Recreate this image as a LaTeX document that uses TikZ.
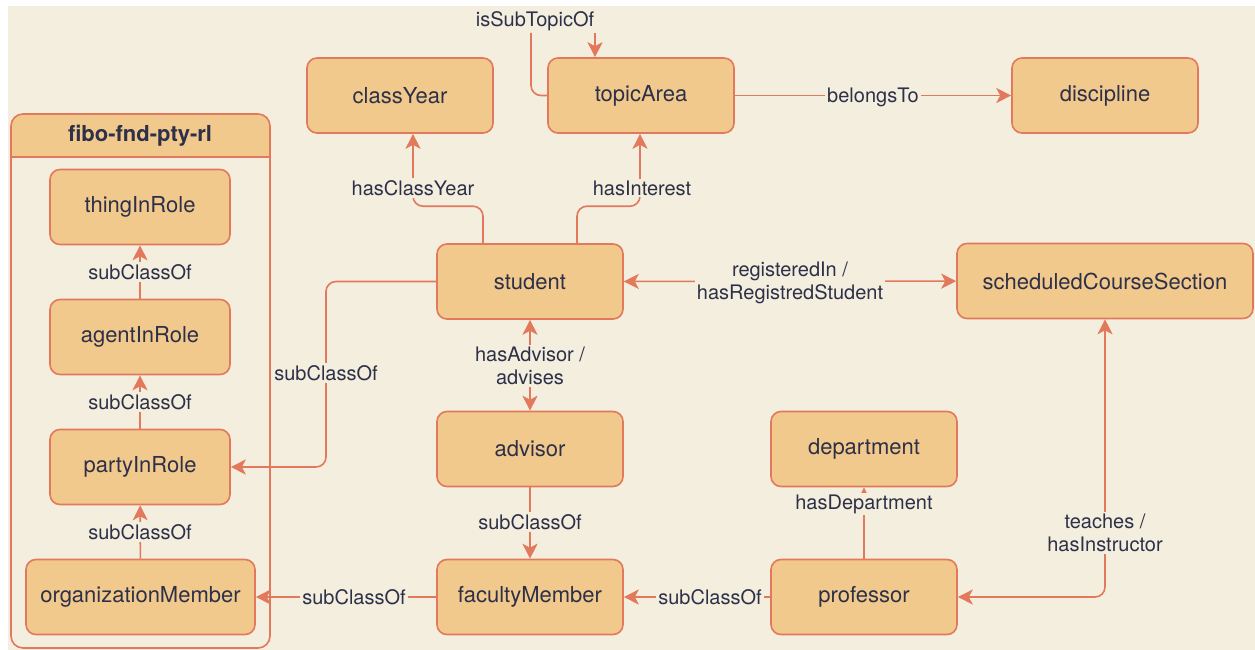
\documentclass[tikz,border=0pt]{standalone}
\usepackage{fontspec}
\setmainfont{TeX Gyre Heros}
\usetikzlibrary{arrows.meta,calc}
\definecolor{bgc}{RGB}{243,238,221}
\definecolor{boxc}{RGB}{242,201,140}
\definecolor{linec}{RGB}{226,120,92}
\definecolor{txtc}{RGB}{45,48,72}
\begin{document}
\begin{tikzpicture}[x=1pt,y=-1pt,
 box/.style={draw=linec, fill=boxc, line width=1.6pt, rounded corners=10pt, minimum width=186pt, minimum height=75pt, inner sep=0pt, text=txtc, font=\fontsize{22}{26}\selectfont},
 lbl/.style={fill=bgc, text=txtc, inner sep=2pt, font=\fontsize{20}{23}\selectfont, align=center},
 edge/.style={draw=linec, line width=1.6pt},
 >={Stealth[length=15pt,width=15pt,inset=4pt]}
]
\useasboundingbox (0,0) rectangle (1255,650);
\fill[white] (0,0) rectangle (1255,650);
\fill[bgc] (8,6) rectangle (1255,650);

% container
\fill[boxc] (11,157) [rounded corners=12pt] -- (11,114) -- (270,114) [sharp corners] -- (270,157) -- cycle;
\draw[linec, line width=1.6pt] (11,157) -- (270,157);
\draw[linec, line width=1.6pt, rounded corners=12pt] (11,114) rectangle (270,648);
\node[text=txtc, font=\fontsize{22}{26}\selectfont\bfseries] (hdr) at (140,136) {fibo-fnd-pty-rl};

% nodes
\node[box] (classYear) at (400,95.5) {classYear};
\node[box] (topicArea) at (641,95.5) {topicArea};
\node[box] (discipline) at (1105,95.5) {discipline};
\node[box] (student) at (530,281.5) {student};
\node[box, minimum width=296pt] (scs) at (1105,281) {scheduledCourseSection};
\node[box] (advisor) at (530,449) {advisor};
\node[box] (faculty) at (530,597) {facultyMember};
\node[box] (department) at (864,449) {department};
\node[box] (professor) at (864,597) {professor};
\node[box, minimum width=180pt] (thing) at (140,207) {thingInRole};
\node[box, minimum width=180pt] (agent) at (140,337) {agentInRole};
\node[box, minimum width=180pt] (party) at (140,467) {partyInRole};
\node[box, minimum width=229pt] (orgm) at (140.5,597) {organizationMember};

% labels (placed first so that edges can refer to them)
\node[lbl] (lSub) at (535,21) {isSubTopicOf};

% edges
\draw[edge, rounded corners=10pt] (topicArea.west) -| ([xshift=-4pt]lSub.south);
\draw[edge, ->] ([xshift=60pt]lSub.south) -- ([xshift=60pt]lSub.south |- topicArea.north);
\draw[edge, ->] (topicArea) -- (discipline);
\draw[edge, ->, rounded corners=10pt] ([xshift=-47pt]student.north) -- ++(0,-37) -| ([xshift=13pt]classYear.south);
\draw[edge, ->, rounded corners=10pt] ([xshift=47pt]student.north) -- ++(0,-37) -| ([xshift=-1pt]topicArea.south);
\draw[edge, <->] (student) -- (scs);
\coordinate (c1) at (326,467);
\draw[edge, ->, rounded corners=10pt] (student.west) -| (c1) -- (party.east);
\draw[edge, <->] (student) -- (advisor);
\draw[edge, ->] (advisor) -- (faculty);
\draw[edge, ->] (professor) -- (faculty);
\draw[edge, ->] (faculty) -- (orgm);
\draw[edge, ->] (professor) -- (department);
\draw[edge, <->, rounded corners=10pt] (professor.east) -| (scs.south);
\draw[edge, ->] (agent) -- (thing);
\draw[edge, ->] (party) -- (agent);
\draw[edge, ->] (orgm) -- (party);

% edge labels
\node[lbl] at (873,97) {belongsTo};
\node[lbl] at (413,188) {hasClassYear};
\node[lbl] at (642,188) {hasInterest};
\node[lbl] at (790,283) {registeredIn /\\hasRegistredStudent};
\node[lbl] at (326,373) {subClassOf};
\node[lbl] at (530,366) {hasAdvisor /\\advises};
\node[lbl] at (530,522) {subClassOf};
\node[lbl] at (710,597) {subClassOf};
\node[lbl] at (354,597) {subClassOf};
\node[lbl] at (864,504) {hasDepartment};
\node[lbl] at (1105,533) {teaches /\\hasInstructor};
\node[lbl] at (140,272) {subClassOf};
\node[lbl] at (140,402) {subClassOf};
\node[lbl] at (140,532) {subClassOf};
\end{tikzpicture}
\end{document}
